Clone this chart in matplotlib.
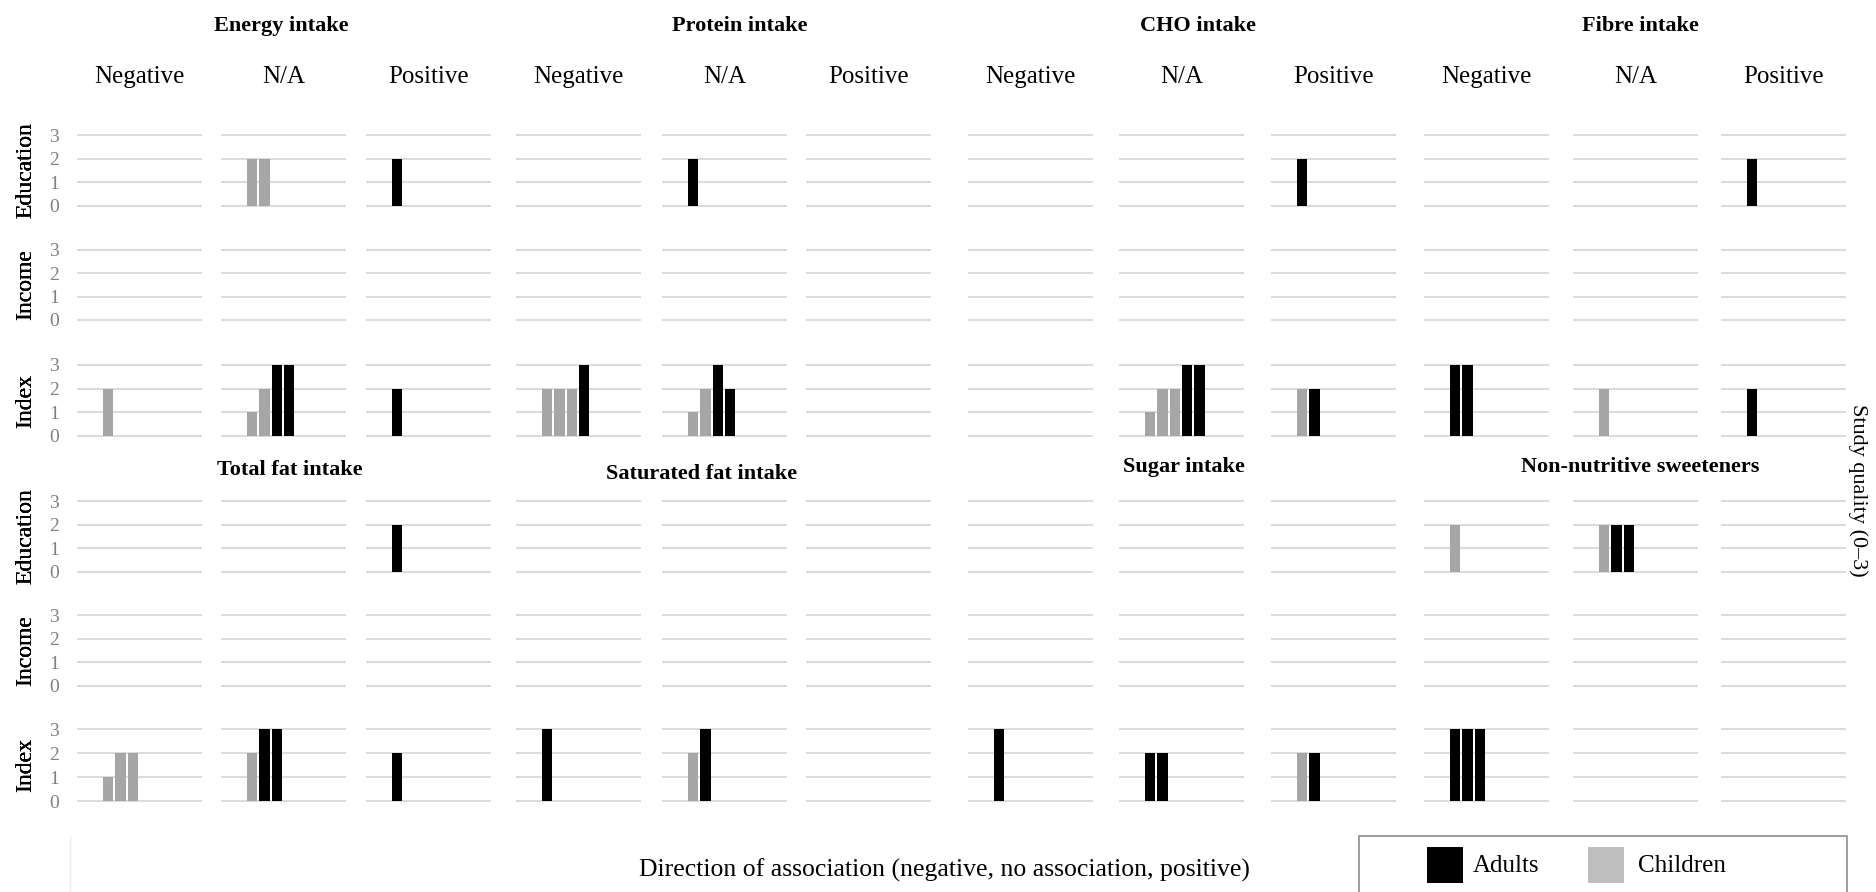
import matplotlib
matplotlib.use("Agg")
import matplotlib.pyplot as plt
from matplotlib.patches import Rectangle
from matplotlib.lines import Line2D

plt.rcParams['font.family'] = ['Liberation Serif', 'DejaVu Serif']

directions = ["Negative", "N/A", "Positive"]
measures = ["Education", "Income", "Index"]
top_nutrients = ["Energy intake", "Protein intake", "CHO intake", "Fibre intake"]
bottom_nutrients = ["Total fat intake", "Saturated fat intake", "Sugar intake",
                    "Non-nutritive sweeteners"]

# one entry per study: (group, quality score), C = children, A = adults
# each measure holds [negative, n/a, positive]
energy = {
    "Education": [[], [("C", 2), ("C", 2)], [("A", 2)]],
    "Income": [[], [], []],
    "Index": [[("C", 2)], [("C", 1), ("C", 2), ("A", 3), ("A", 3)], [("A", 2)]],
}
protein = {
    "Education": [[], [("A", 2)], []],
    "Income": [[], [], []],
    "Index": [[("C", 2), ("C", 2), ("C", 2), ("A", 3)],
              [("C", 1), ("C", 2), ("A", 3), ("A", 2)], []],
}
cho = {
    "Education": [[], [], [("A", 2)]],
    "Income": [[], [], []],
    "Index": [[], [("C", 1), ("C", 2), ("C", 2), ("A", 3), ("A", 3)],
              [("C", 2), ("A", 2)]],
}
fibre = {
    "Education": [[], [], [("A", 2)]],
    "Income": [[], [], []],
    "Index": [[("A", 3), ("A", 3)], [("C", 2)], [("A", 2)]],
}
total_fat = {
    "Education": [[], [], [("A", 2)]],
    "Income": [[], [], []],
    "Index": [[("C", 1), ("C", 2), ("C", 2)], [("C", 2), ("A", 3), ("A", 3)],
              [("A", 2)]],
}
saturated_fat = {
    "Education": [[], [], []],
    "Income": [[], [], []],
    "Index": [[("A", 3)], [("C", 2), ("A", 3)], []],
}
sugar = {
    "Education": [[], [], []],
    "Income": [[], [], []],
    "Index": [[("A", 3)], [("A", 2), ("A", 2)], [("C", 2), ("A", 2)]],
}
sweeteners = {
    "Education": [[("C", 2)], [("C", 2), ("A", 2), ("A", 2)], []],
    "Income": [[], [], []],
    "Index": [[("A", 3), ("A", 3), ("A", 3)], [], []],
}

top_data = [energy, protein, cho, fibre]
bottom_data = [total_fat, saturated_fat, sugar, sweeteners]

colors = {"A": "#000000", "C": "#a6a6a6"}

# layout in pixels
W, H = 1876, 892
col_x = [77, 221, 366, 516, 662, 806, 968, 1119, 1271, 1424, 1573, 1721]
cell_w = 125
top_rows = [(135, 206), (250, 320), (365, 436)]
bottom_rows = [(501, 572), (615, 686), (729, 801)]
top_title_x = [281, 740, 1198, 1640]
bottom_title_x = [290, 702, 1184, 1640]
top_title_y = 26
bottom_title_y = [470, 474, 467, 467]


def fx(px):
    return px / W


def fy(py):
    return 1 - py / H


fig = plt.figure(figsize=(18.76, 8.92), dpi=100)


def draw_block(data, rows):
    for n, nutr in enumerate(data):
        for m, meas in enumerate(measures):
            y3, y0 = rows[m]
            unit = (y0 - y3) / 3
            top = y3 - 0.15 * unit
            bot = y0 + 0.15 * unit
            for d in range(3):
                c = n * 3 + d
                ax = fig.add_axes([fx(col_x[c]), fy(bot), cell_w / W, (bot - top) / H])
                studies = nutr[meas][d]
                xs = [26 + i * 12.3 for i in range(len(studies))]
                hs = [s[1] for s in studies]
                cs = [colors[s[0]] for s in studies]
                if studies:
                    ax.bar(xs, hs, width=10.3, align='edge', color=cs, zorder=3)
                ax.set_xlim(0, cell_w)
                ax.set_ylim(-0.15, 3.15)
                ax.set_yticks([0, 1, 2, 3])
                ax.set_xticks([])
                ax.grid(axis='y', color='#dcdcdc', linewidth=1.5, zorder=0)
                ax.set_axisbelow(True)
                for sp in ax.spines.values():
                    sp.set_visible(False)
                ax.tick_params(axis='y', length=0, pad=13, labelsize=14,
                               labelcolor='#808080')
                if c != 0:
                    ax.set_yticklabels([])
                ax.patch.set_alpha(0)
            fig.text(fx(26), fy((y3 + y0) / 2), meas, rotation=90, ha='center',
                     va='center', fontsize=17)


draw_block(top_data, top_rows)
draw_block(bottom_data, bottom_rows)

# nutrient titles
for n, name in enumerate(top_nutrients):
    fig.text(fx(top_title_x[n]), fy(top_title_y), name, ha='center', va='center',
             fontsize=16, fontweight='bold')
for n, name in enumerate(bottom_nutrients):
    fig.text(fx(bottom_title_x[n]), fy(bottom_title_y[n]), name, ha='center',
             va='center', fontsize=16, fontweight='bold')

# direction labels
for c in range(12):
    fig.text(fx(col_x[c] + cell_w / 2), fy(77), directions[c % 3], ha='center',
             va='center', fontsize=18)

fig.text(fx(944), fy(870), "Direction of association (negative, no association, positive)",
         ha='center', va='center', fontsize=18.5)
fig.text(fx(1858), fy(490), "Study quality (0\u20133)", rotation=270, ha='center',
         va='center', fontsize=16)

# faint frame line at bottom left
fig.add_artist(Line2D([fx(70), fx(70)], [fy(837), fy(892)], color='#ececec', lw=1))

# legend
fig.add_artist(Rectangle((fx(1359), fy(900)), (1847 - 1359) / W, (900 - 836) / H,
                         transform=fig.transFigure, facecolor='white',
                         edgecolor='#8c8c8c', lw=1.2))
fig.add_artist(Rectangle((fx(1427), fy(883)), 36 / W, 36 / H,
                         transform=fig.transFigure, facecolor='#000000', lw=0))
fig.add_artist(Rectangle((fx(1588), fy(883)), 36 / W, 36 / H,
                         transform=fig.transFigure, facecolor='#bfbfbf', lw=0))
fig.text(fx(1473), fy(866), "Adults", ha='left', va='center', fontsize=18)
fig.text(fx(1638), fy(866), "Children", ha='left', va='center', fontsize=18)

fig.savefig("out.png", dpi=100)
